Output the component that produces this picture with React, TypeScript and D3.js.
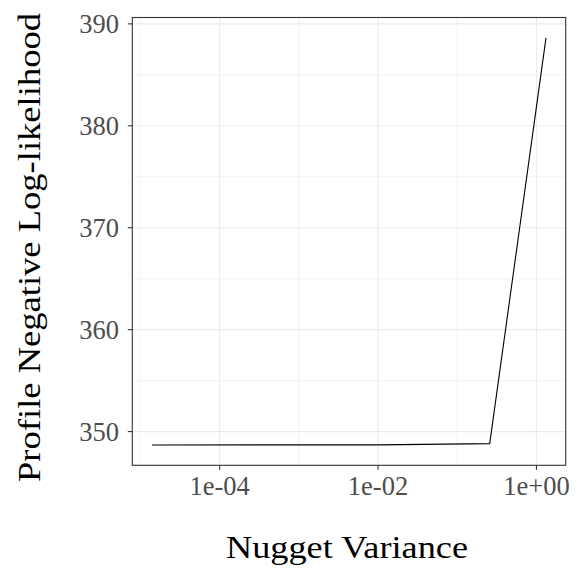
import React from "react";
import * as d3 from "d3";

// Profile negative log-likelihood over nugget variance
const nuggetVariance = [1.4e-5, 1e-2, 0.257, 1.32];
const negLogLik = [348.69, 348.7, 348.82, 388.63];
const yTicks = [350, 360, 370, 380, 390];
const yMinorTicks = [355, 365, 375, 385];
const xTicks = [1e-4, 1e-2, 1];
const xTickLabels = ["1e-04", "1e-02", "1e+00"];
const xMinorTicks = [1e-5, 1e-3, 1e-1];

const W = 577;
const H = 570;
const panel = { left: 132.3, right: 565.7, top: 17.5, bottom: 465.3 };
const FONT = "'Liberation Serif', 'Times New Roman', serif";

function expandLog(vals: number[], f = 0.05): [number, number] {
  const lo = Math.log10(d3.min(vals)!);
  const hi = Math.log10(d3.max(vals)!);
  const pad = (hi - lo) * f;
  return [Math.pow(10, lo - pad), Math.pow(10, hi + pad)];
}
function expandLin(vals: number[], f = 0.05): [number, number] {
  const lo = d3.min(vals)!;
  const hi = d3.max(vals)!;
  const pad = (hi - lo) * f;
  return [lo - pad, hi + pad];
}

export default function App() {
  const x = d3.scaleLog().domain(expandLog(nuggetVariance)).range([panel.left, panel.right]);
  const y = d3.scaleLinear().domain(expandLin(negLogLik)).range([panel.bottom, panel.top]);

  const pts = nuggetVariance.map((v, i) => [v, negLogLik[i]] as [number, number]);
  const line = d3
    .line<[number, number]>()
    .x((d) => x(d[0]))
    .y((d) => y(d[1]));

  const pw = panel.right - panel.left;
  const ph = panel.bottom - panel.top;

  return (
    <svg
      width={W}
      height={H}
      style={{ position: "absolute", left: 0, top: 0, display: "block", background: "#fff" }}
    >
      <rect x={panel.left} y={panel.top} width={pw} height={ph} fill="#fff" />
      {/* minor grid */}
      {yMinorTicks.map((t) => (
        <line key={"ym" + t} x1={panel.left} x2={panel.right} y1={y(t)} y2={y(t)} stroke="#EBEBEB" strokeWidth={0.6} />
      ))}
      {xMinorTicks.map((t) => (
        <line key={"xm" + t} y1={panel.top} y2={panel.bottom} x1={x(t)} x2={x(t)} stroke="#EBEBEB" strokeWidth={0.6} />
      ))}
      {/* major grid */}
      {yTicks.map((t) => (
        <line key={"yg" + t} x1={panel.left} x2={panel.right} y1={y(t)} y2={y(t)} stroke="#EBEBEB" strokeWidth={1.1} />
      ))}
      {xTicks.map((t) => (
        <line key={"xg" + t} y1={panel.top} y2={panel.bottom} x1={x(t)} x2={x(t)} stroke="#EBEBEB" strokeWidth={1.1} />
      ))}
      {/* data */}
      <path d={line(pts) ?? ""} fill="none" stroke="#000" strokeWidth={1.1} />
      {/* panel border */}
      <rect x={panel.left} y={panel.top} width={pw} height={ph} fill="none" stroke="#333333" strokeWidth={1.1} />
      {/* y axis */}
      {yTicks.map((t) => (
        <g key={"yt" + t}>
          <line x1={panel.left - 4.5} x2={panel.left} y1={y(t)} y2={y(t)} stroke="#333333" strokeWidth={1.1} />
          <text
            x={119}
            y={y(t)}
            dy="0.34em"
            textAnchor="end"
            fontFamily={FONT}
            fontSize={26.5}
            fill="#4D4D4D"
          >
            {t}
          </text>
        </g>
      ))}
      {/* x axis */}
      {xTicks.map((t, i) => (
        <g key={"xt" + t}>
          <line y1={panel.bottom} y2={panel.bottom + 4.5} x1={x(t)} x2={x(t)} stroke="#333333" strokeWidth={1.1} />
          <text
            x={x(t)}
            y={495}
            textAnchor="middle"
            fontFamily={FONT}
            fontSize={26.5}
            fill="#4D4D4D"
          >
            {xTickLabels[i]}
          </text>
        </g>
      ))}
      {/* axis titles */}
      <text
        x={347}
        y={558}
        textAnchor="middle"
        fontFamily={FONT}
        fontSize={31.5}
        fill="#000"
        textLength={242}
        lengthAdjust="spacingAndGlyphs"
      >
        Nugget Variance
      </text>
      <text
        transform={`translate(40, 247.5) rotate(-90)`}
        textAnchor="middle"
        fontFamily={FONT}
        fontSize={31.5}
        fill="#000"
        textLength={469}
        lengthAdjust="spacingAndGlyphs"
      >
        Profile Negative Log-likelihood
      </text>
    </svg>
  );
}
